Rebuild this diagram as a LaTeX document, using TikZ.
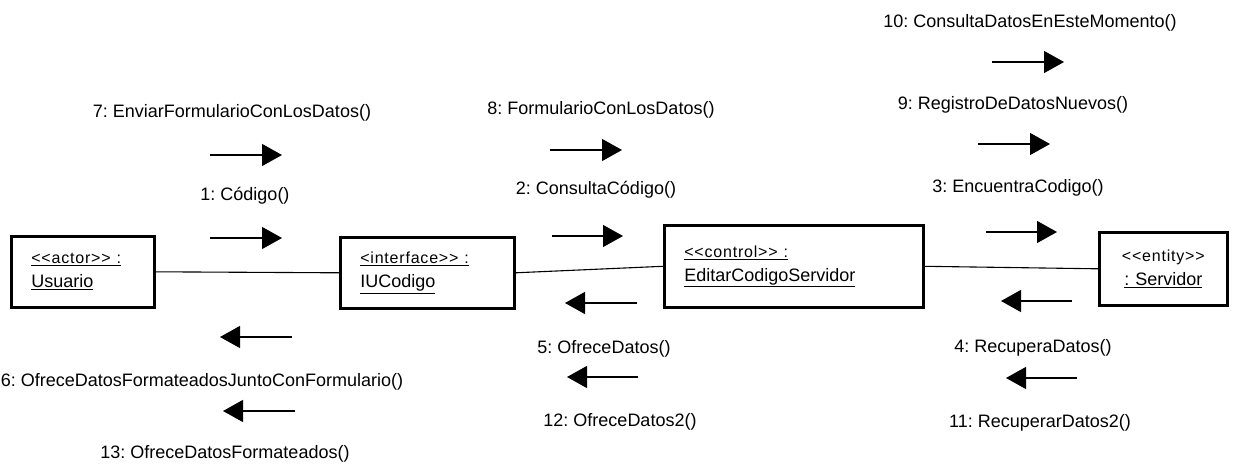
\documentclass[tikz,border=0pt]{standalone}
\usepackage{fontspec}
\setmainfont[Ligatures=NoCommon]{Liberation Sans}
\usetikzlibrary{arrows.meta, positioning}

\newcommand{\stereo}[1]{{\fontsize{16}{18}\selectfont\addfontfeature{LetterSpace=5}#1}}
\frenchspacing

\begin{document}
\begin{tikzpicture}[x=1pt, y=-1pt,
  obj/.style={rectangle, draw=black, line width=2.6pt, anchor=north west,
              inner xsep=20pt, inner ysep=0pt, align=left,
              font=\fontsize{18}{24}\selectfont},
  ent/.style={obj, align=center, inner xsep=0pt},
  lnk/.style={line width=1.1pt, draw=black},
  msg/.style={-{Triangle[length=20pt, width=22pt]}, line width=1.3pt},
  lbl/.style={font=\fontsize{18}{22}\selectfont, inner sep=0pt},
]
\useasboundingbox (0,0) rectangle (1244,468);

%% --- Objects ---
\node[obj, text width=103pt, minimum height=71pt] (usuario) at (10,235)
  {\stereo{\underline{<{}<actor>{}> :}}\\\underline{Usuario}};
\node[obj, text width=134pt, minimum height=71pt] (iucodigo) at (339,236)
  {\stereo{\underline{<interface>{}> :}}\\\underline{IUCodigo}};
\node[obj, text width=219pt, minimum height=82pt] (editar) at (663,224)
  {\stereo{\underline{<{}<control>{}> :}}\\\underline{EditarCodigoServidor}\\[4pt]};
\node[ent, text width=128pt, minimum height=73pt] (servidor) at (1098,231)
  {\stereo{<{}<entity>{}>}\\\underline{: Servidor}};

%% --- Links ---
\draw[lnk] (usuario.east) -- (iucodigo.west);
\draw[lnk] (iucodigo.east) -- (editar.west);
\draw[lnk] (editar.east) -- (servidor.west);

%% --- Messages Usuario -> IUCodigo ---
\node[lbl] (m7) at (232,113) {7: EnviarFormularioConLosDatos()};
\draw[msg] (210,155) -- (282,155);
\node[lbl] (m1) at (245,196) {1: Código()};
\draw[msg] (210,238) -- (282,238);

%% --- Messages IUCodigo -> EditarCodigoServidor ---
\node[lbl] (m8) at (601,110) {8: FormularioConLosDatos()};
\draw[msg] (550,150) -- (622,150);
\node[lbl] (m2) at (596,190) {2: ConsultaCódigo()};
\draw[msg] (552,236) -- (623,236);

%% --- Messages EditarCodigoServidor -> Servidor ---
\node[lbl] (m10) at (1030,23) {10: ConsultaDatosEnEsteMomento()};
\draw[msg] (992,62) -- (1064,62);
\node[lbl] (m9) at (1013,105) {9: RegistroDeDatosNuevos()};
\draw[msg] (978,144) -- (1050,144);
\node[lbl] (m3) at (1018,188) {3: EncuentraCodigo()};
\draw[msg] (986,232) -- (1057,232);

%% --- Returns to Usuario ---
\draw[msg] (292,337) -- (220,337);
\node[lbl] (m6) at (202,382) {6: OfreceDatosFormateadosJuntoConFormulario()};
\draw[msg] (295,411) -- (223,411);
\node[lbl] (m13) at (225,454) {13: OfreceDatosFormateados()};

%% --- Returns to IUCodigo ---
\draw[msg] (637,303) -- (565,303);
\node[lbl] (m5) at (604,349) {5: OfreceDatos()};
\draw[msg] (638,377) -- (567,377);
\node[lbl] (m12) at (620,422) {12: OfreceDatos2()};

%% --- Returns to EditarCodigoServidor ---
\draw[msg] (1072,301) -- (1001,301);
\node[lbl] (m4) at (1033,348) {4: RecuperaDatos()};
\draw[msg] (1077,378) -- (1006,378);
\node[lbl] (m11) at (1040,423) {11: RecuperarDatos2()};
\end{tikzpicture}
\end{document}
